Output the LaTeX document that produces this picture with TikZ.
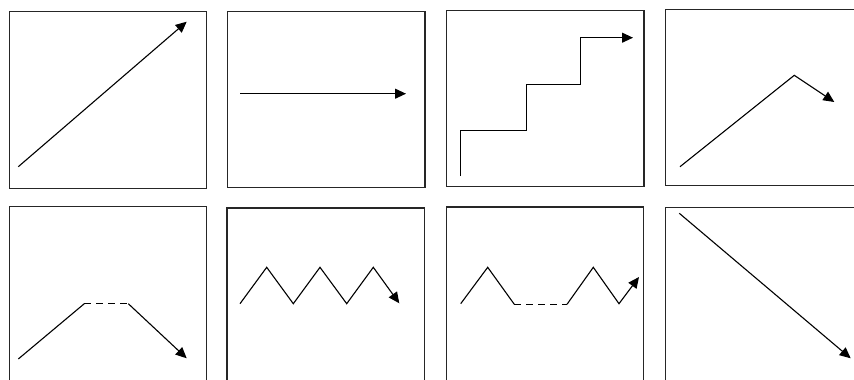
\documentclass[tikz,border=0pt]{standalone}
\usetikzlibrary{arrows.meta}
\begin{document}
\begin{tikzpicture}[x=1pt,y=-1pt,
  panel/.style={draw=black!85,line width=1.4pt},
  trend/.style={draw=black,line width=1.1pt,line join=miter},
  tipped/.style={trend,-{Triangle[length=11pt,width=10pt]}},
  gapline/.style={draw=black,line width=1.1pt,dash pattern=on 7pt off 5pt}]
\clip (0,0) rectangle (854,380);
\fill[white] (0,0) rectangle (854,380);
% panels
\draw[panel] (9.3,11.7) rectangle (206.3,188.3);
\draw[panel] (227.7,11.3) rectangle (425,187.3);
\draw[panel] (446.7,10.3) rectangle (644,186.7);
\draw[panel] (665.7,9.7) rectangle (900,185.7);
\draw[panel] (9.3,206.7) rectangle (206.3,420);
\draw[panel] (227,208) rectangle (424.3,420);
\draw[panel] (446.7,207) rectangle (643.7,420);
\draw[panel] (665.7,207.3) rectangle (900,420);
% 1 rising
\coordinate (a0) at (18.3,166.7); \coordinate (a1) at (186.7,21.7);
\draw[tipped] (a0) -- (a1);
% 2 flat
\coordinate (b0) at (240,93.7); \coordinate (b1) at (406,93.7);
\draw[tipped] (b0) -- (b1);
% 3 stairs
\coordinate (c0) at (460.7,176);
\coordinate (c1) at (526.7,130.3);
\coordinate (c2) at (580.3,84.3);
\coordinate (c3) at (633,37.7);
\draw[tipped] (c0) |- (c1) |- (c2) |- (c3);
% 4 rise then drop
\coordinate (d0) at (680,166.7); \coordinate (d1) at (794.3,75.3); \coordinate (d2) at (834.3,102);
\draw[tipped] (d0) -- (d1) -- (d2);
% 5 rise plateau fall
\coordinate (e0) at (18.3,359); \coordinate (e1) at (84.3,303.7);
\coordinate (e2) at (128.3,303.7); \coordinate (e3) at (186.7,358.3);
\draw[trend] (e0) -- (e1);
\draw[gapline] (e1) -- (e2);
\draw[tipped] (e2) -- (e3);
% 6 zigzag
\draw[tipped] (240,303.7) -- (266.7,267.3) -- (293.3,303.7) -- (320,267.3) -- (346.7,303.7) -- (373.3,267.3) -- (399.3,303.3);
% 7 zigzag with gap
\coordinate (g2) at (514.3,304.3); \coordinate (g3) at (567,304.3);
\draw[trend] (460.7,303.7) -- (487.7,267.3) -- (g2);
\draw[gapline] (g2) -- (g3);
\draw[tipped] (g3) -- (593.3,267.3) -- (619,303.7) -- (639,277);
% 8 falling
\coordinate (h0) at (679.3,213.3); \coordinate (h1) at (850.7,358.3);
\draw[tipped] (h0) -- (h1);
\end{tikzpicture}
\end{document}
